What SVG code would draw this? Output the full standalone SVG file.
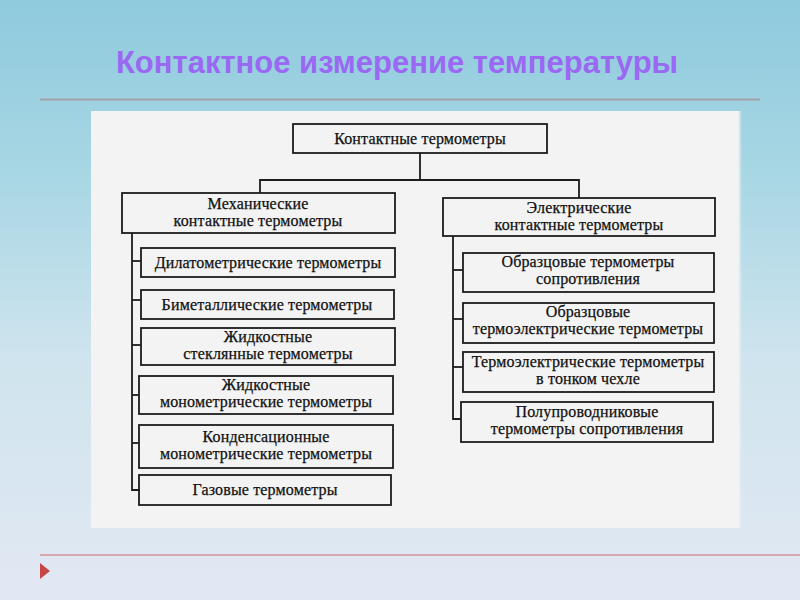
<svg xmlns="http://www.w3.org/2000/svg" width="800" height="600" viewBox="0 0 800 600">
<defs>
<linearGradient id="bg" x1="0" y1="0" x2="0" y2="1">
<stop offset="0" stop-color="#8ecadd"/>
<stop offset="0.3" stop-color="#a9d7e4"/>
<stop offset="0.6" stop-color="#cfe4ee"/>
<stop offset="1" stop-color="#e2e8f3"/>
</linearGradient>
<linearGradient id="shadow" x1="0" y1="0" x2="1" y2="0">
<stop offset="0" stop-color="#f4f4f4"/>
<stop offset="1" stop-color="#f4f4f4" stop-opacity="0"/>
</linearGradient>
<style>
.box{fill:none;stroke:#1c1c1c;stroke-width:1.8}
.ln{fill:none;stroke:#1c1c1c;stroke-width:1.8}
.t{font-family:"Liberation Serif","DejaVu Serif",serif;font-size:16px;letter-spacing:0.15px;fill:#111;stroke:#111;stroke-width:0.25;text-anchor:middle}
</style>
</defs>
<rect width="800" height="600" fill="url(#bg)"/>
<text x="397" y="73" font-family="Liberation Sans, Arial, sans-serif" font-weight="bold" font-size="31" fill="#9a68f2" text-anchor="middle">Контактное измерение температуры</text>
<line x1="40" y1="99.5" x2="760" y2="99.5" stroke="#a0a0a8" stroke-width="2"/>
<line x1="40" y1="555" x2="800" y2="555" stroke="#d9a7ae" stroke-width="2"/>
<polygon points="40,563 50,571 40,579" fill="#c84545"/>
<rect x="91" y="111" width="647" height="417" fill="#f3f3f3"/>
<rect x="738" y="111" width="4" height="417" fill="url(#shadow)"/>
<g id="connectors">
<polyline class="ln" points="420,153 420,180 260,180 260,193"/>
<polyline class="ln" points="420,180 579,180 579,198"/>
<polyline class="ln" points="132,233 132,490 140,490"/>
<line class="ln" x1="132" y1="261" x2="141" y2="261"/>
<line class="ln" x1="132" y1="300" x2="141" y2="300"/>
<line class="ln" x1="132" y1="345" x2="141" y2="345"/>
<line class="ln" x1="132" y1="395" x2="139" y2="395"/>
<line class="ln" x1="132" y1="443" x2="139" y2="443"/>
<polyline class="ln" points="453,236 453,419 461,419"/>
<line class="ln" x1="453" y1="270" x2="463" y2="270"/>
<line class="ln" x1="453" y1="319" x2="463" y2="319"/>
<line class="ln" x1="453" y1="367" x2="463" y2="367"/>
</g>
<g id="root"><rect class="box" x="293" y="124" width="254" height="29"/><text class="t" x="420" y="144">Контактные термометры</text></g>
<g id="mech"><rect class="box" x="122" y="193" width="273" height="40"/><text class="t" x="258" y="209">Механические</text><text class="t" x="258" y="226">контактные термометры</text></g>
<g id="elec"><rect class="box" x="443" y="198" width="272" height="38"/><text class="t" x="579" y="213">Электрические</text><text class="t" x="579" y="230">контактные термометры</text></g>
<g id="dil"><rect class="box" x="141" y="248" width="254" height="29"/><text class="t" x="268" y="268">Дилатометрические термометры</text></g>
<g id="bim"><rect class="box" x="141" y="290" width="253" height="29"/><text class="t" x="267" y="310">Биметаллические термометры</text></g>
<g id="zhst"><rect class="box" x="141" y="328" width="254" height="37"/><text class="t" x="268" y="342">Жидкостные</text><text class="t" x="268" y="359">стеклянные термометры</text></g>
<g id="zhmon"><rect class="box" x="139" y="376" width="254" height="38"/><text class="t" x="266" y="390">Жидкостные</text><text class="t" x="266" y="407">монометрические термометры</text></g>
<g id="kond"><rect class="box" x="139" y="425" width="254" height="43"/><text class="t" x="266" y="442">Конденсационные</text><text class="t" x="266" y="459">монометрические термометры</text></g>
<g id="gas"><rect class="box" x="139" y="475" width="252" height="30"/><text class="t" x="265" y="495">Газовые термометры</text></g>
<g id="obrs"><rect class="box" x="463" y="253" width="251" height="39"/><text class="t" x="588" y="267">Образцовые термометры</text><text class="t" x="588" y="284">сопротивления</text></g>
<g id="obrt"><rect class="box" x="463" y="303" width="251" height="40"/><text class="t" x="588" y="317">Образцовые</text><text class="t" x="588" y="334">термоэлектрические термометры</text></g>
<g id="tch"><rect class="box" x="463" y="352" width="251" height="40"/><text class="t" x="588" y="367">Термоэлектрические термометры</text><text class="t" x="588" y="384">в тонком чехле</text></g>
<g id="pp"><rect class="box" x="461" y="402" width="252" height="40"/><text class="t" x="587" y="417">Полупроводниковые</text><text class="t" x="587" y="434">термометры сопротивления</text></g>
</svg>
